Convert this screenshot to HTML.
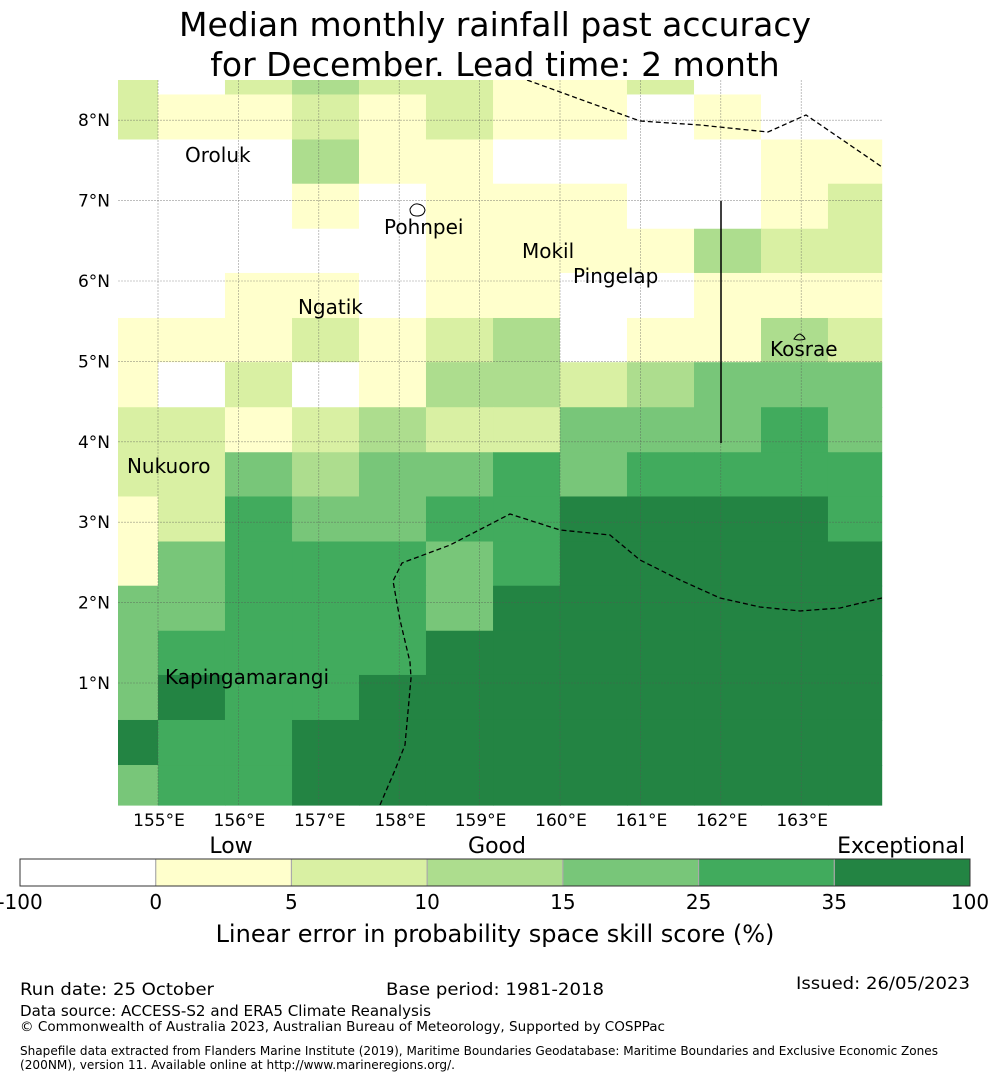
<!DOCTYPE html>
<html><head><meta charset="utf-8"><style>
body{margin:0;background:#fff;}
svg{display:block;font-family:"DejaVu Sans","Liberation Sans",sans-serif;}
</style></head><body>
<svg id="chart" width="990" height="1080" viewBox="0 0 990 1080" xmlns="http://www.w3.org/2000/svg">
<text x="495" y="36" text-anchor="middle" font-size="33">Median monthly rainfall past accuracy</text>
<text x="495" y="76" text-anchor="middle" font-size="33">for December. Lead time: 2 month</text>
<g id="cells"></g>
<g id="grid"></g>
<g id="lines"></g>
<g id="labels"></g>
<g id="axes"></g>
<g id="cbar"></g>
<text x="495" y="942" text-anchor="middle" font-size="24">Linear error in probability space skill score (%)</text>
<text x="20" y="995" font-size="17" textLength="194" lengthAdjust="spacingAndGlyphs">Run date: 25 October</text>
<text x="386" y="995" font-size="17" textLength="218" lengthAdjust="spacingAndGlyphs">Base period: 1981-2018</text>
<text x="796" y="989" font-size="17" textLength="174" lengthAdjust="spacingAndGlyphs">Issued: 26/05/2023</text>
<text x="20" y="1016" font-size="15" textLength="411" lengthAdjust="spacingAndGlyphs">Data source: ACCESS-S2 and ERA5 Climate Reanalysis</text>
<text x="20" y="1031" font-size="13" textLength="645" lengthAdjust="spacingAndGlyphs">© Commonwealth of Australia 2023, Australian Bureau of Meteorology, Supported by COSPPac</text>
<text x="20" y="1055" font-size="12" textLength="918" lengthAdjust="spacingAndGlyphs">Shapefile data extracted from Flanders Marine Institute (2019), Maritime Boundaries Geodatabase: Maritime Boundaries and Exclusive Economic Zones</text>
<text x="20" y="1069" font-size="12" textLength="435" lengthAdjust="spacingAndGlyphs">(200NM), version 11. Available online at http://www.marineregions.org/.</text>
</svg>
<script>
const palette = ["#ffffff","#ffffcc","#d9f0a3","#addd8e","#78c679","#41ab5d","#238443"];
const bandLabels = ["-100","0","5","10","15","25","35","100"];
const qualLabels = ["Low","Good","Exceptional"];
const lonTicks = [155,156,157,158,159,160,161,162,163];
const latTicks = [1,2,3,4,5,6,7,8];
// category index per cell, rows top->bottom, cols left->right
const row0  = [2,0,2,3,2,2,1,1,2,0,0,0];
const row1  = [2,1,1,2,1,2,1,1,0,1,0,0];
const row2  = [0,0,0,3,1,1,0,0,0,0,1,1];
const row3  = [0,0,0,1,0,1,1,1,0,0,1,2];
const row4  = [0,0,0,0,0,1,1,1,1,3,2,2];
const row5  = [0,0,1,1,0,1,1,0,0,1,1,1];
const row6  = [1,1,1,2,1,2,3,0,1,1,3,2];
const row7  = [1,0,2,0,1,3,3,2,3,4,4,4];
const row8  = [2,2,1,2,3,2,2,4,4,4,5,4];
const row9  = [2,2,4,3,4,4,5,4,5,5,5,5];
const row10 = [1,2,5,4,4,5,5,6,6,6,6,5];
const row11 = [1,4,5,5,5,4,5,6,6,6,6,6];
const row12 = [4,4,5,5,5,4,6,6,6,6,6,6];
const row13 = [4,5,5,5,5,6,6,6,6,6,6,6];
const row14 = [4,6,5,5,6,6,6,6,6,6,6,6];
const row15 = [6,5,5,6,6,6,6,6,6,6,6,6];
const row16 = [4,5,5,6,6,6,6,6,6,6,6,6];
const gridRows = [row0,row1,row2,row3,row4,row5,row6,row7,row8,row9,row10,row11,row12,row13,row14,row15,row16];
const colEdges = [154.5,155.0,155.833,156.667,157.5,158.333,159.167,160.0,160.833,161.667,162.5,163.333,164.0];
const rowEdges = [8.5,8.32,7.76,7.21,6.65,6.1,5.54,4.99,4.43,3.87,3.32,2.76,2.21,1.65,1.1,0.54,-0.02,-0.52];
const islands = [["Oroluk",155.336,7.48],["Pohnpei",157.811,6.585],["Mokil",159.527,6.286],["Pingelap",160.162,5.975],["Ngatik",156.741,5.59],["Kosrae",162.612,5.067],["Nukuoro",154.614,3.612],["Kapingamarangi",155.087,0.988]];
const eezTop = [[159.59,8.5],[160.995,7.99],[161.741,7.94],[162.587,7.853],[163.06,8.065],[164.005,7.418]];
const eezSouth = [[157.761,-0.517],[157.948,-0.082],[158.072,0.229],[158.147,1.062],[158.134,1.261],[158.01,1.784],[157.923,2.269],[158.035,2.493],[158.632,2.716],[159.378,3.102],[160.0,2.903],[160.622,2.841],[160.995,2.53],[161.493,2.281],[161.99,2.057],[162.488,1.945],[162.985,1.896],[163.483,1.933],[164.005,2.057]];

const X0=158, PX=80.4, Y0=683;
const xs = lon => X0 + (lon-155)*PX;
const ys = lat => Y0 - (lat-1)*PX;
const L=118,R=882,T=80,B=805;
const NS="http://www.w3.org/2000/svg";
function mk(tag, attrs, parent){const e=document.createElementNS(NS,tag);for(const k in attrs)e.setAttribute(k,attrs[k]);parent.appendChild(e);return e;}

const cellsG=document.getElementById('cells');
gridRows.forEach((row,ri)=>{
  row.forEach((v,ci)=>{
    const x1=Math.max(L,xs(colEdges[ci])), x2=Math.min(R,xs(colEdges[ci+1]));
    const y1=Math.max(T,ys(rowEdges[ri])), y2=Math.min(B,ys(rowEdges[ri+1]));
    const r=mk('rect',{x:x1,y:y1,width:x2-x1+0.6,height:y2-y1+0.6,fill:palette[v]},cellsG);
    
    
  });
});
const gridG=document.getElementById('grid');
const axesG=document.getElementById('axes');
lonTicks.forEach(l=>{
  const gl=mk('line',{x1:xs(l),x2:xs(l),y1:T,y2:B,stroke:"#555","stroke-width":0.6,"stroke-dasharray":"2,1","stroke-opacity":0.6},gridG);
  
  
  const t=mk('text',{x:xs(l)+1,y:826,"text-anchor":"middle","font-size":17},axesG);
  t.textContent=l+"°E";
  
  
});
latTicks.forEach(l=>{
  const gl=mk('line',{x1:L,x2:R,y1:ys(l),y2:ys(l),stroke:"#555","stroke-width":0.6,"stroke-dasharray":"2,1","stroke-opacity":0.6},gridG);
  
  
  const t=mk('text',{x:110,y:ys(l)+6,"text-anchor":"end","font-size":17},axesG);
  t.textContent=l+"°N";
  
  
});
const linesG=document.getElementById('lines');
function pl(pts,name){
  const p=mk('polyline',{points:pts.map(p=>xs(p[0])+","+ys(p[1])).join(" "),fill:"none",stroke:"#000","stroke-width":1.3,"stroke-dasharray":"5,3"},linesG);
  
  
}
const clip=mk('clipPath',{id:'mapclip'},document.getElementById('chart'));
mk('rect',{x:L,y:T,width:R-L,height:B-T},clip);
linesG.setAttribute('clip-path','url(#mapclip)');
pl(eezTop,'eez-boundary-north');
pl(eezSouth,'eez-boundary-south');
const sl=mk('line',{x1:721,x2:721,y1:201,y2:443,stroke:"#000","stroke-width":1.5},linesG);


const ip=mk('path',{d:"M410,209 q3,-6 8,-5 q6,1 7,6 q-1,6 -8,6 q-7,0 -7,-7z",fill:"none",stroke:"#000","stroke-width":1},linesG);


const ik=mk('path',{d:"M794,339 q3,-5 6,-5 q4,2 5,5 q-5,2 -11,0z",fill:"none",stroke:"#000","stroke-width":1},linesG);


const labG=document.getElementById('labels');
islands.forEach(d=>{
  const t=mk('text',{x:xs(d[1]),y:ys(d[2]),"font-size":20},labG);
  t.textContent=d[0];
  
  
});
const cb=document.getElementById('cbar');
const CX=20,CW=950,CY=859,CH=27,n=palette.length,sw=CW/n;
palette.forEach((c,i)=>{
  const r=mk('rect',{x:CX+i*sw,y:CY,width:sw,height:CH,fill:c},cb);
  
  
  if(i>0){const d=mk('line',{x1:CX+i*sw,x2:CX+i*sw,y1:CY,y2:CY+CH,stroke:"#aaa","stroke-width":1.2},cb);
    
    }
});
const fr=mk('rect',{x:CX,y:CY,width:CW,height:CH,fill:"none",stroke:"#333","stroke-width":1},cb);


bandLabels.forEach((s,i)=>{
  const t=mk('text',{x:CX+i*sw,y:909,"text-anchor":"middle","font-size":20},cb);
  t.textContent=s;
  
  
});
const qx=[231,497,901];
qualLabels.forEach((s,i)=>{
  const t=mk('text',{x:qx[i],y:853,"text-anchor":"middle","font-size":22},cb);
  t.textContent=s;
  
  
});
</script>
</body></html>
